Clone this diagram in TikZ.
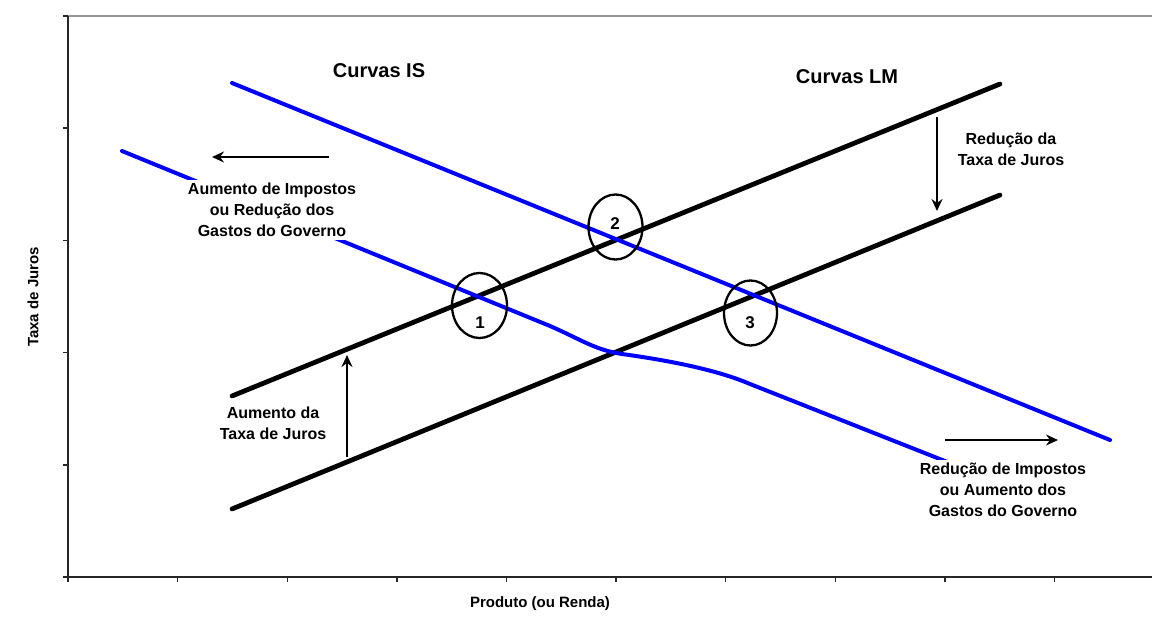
\documentclass[tikz,border=0pt]{standalone}
\usepackage{fontspec}
\setmainfont{Liberation Sans}
\usetikzlibrary{arrows.meta,shapes.geometric}
\definecolor{isblue}{RGB}{0,0,255}
\definecolor{framegray}{RGB}{150,150,150}
\begin{document}
\begin{tikzpicture}[x=1pt,y=-1pt,
  lm/.style={line width=4.8pt,line cap=round},
  is/.style={line width=4pt,draw=isblue,line cap=round},
  lbl/.style={font=\bfseries\fontsize{16}{21}\selectfont,align=center,inner sep=0pt},
  num/.style={font=\bfseries\fontsize{17}{21}\selectfont,inner sep=0pt},
  ttl/.style={font=\bfseries\fontsize{20}{24}\selectfont,inner sep=0pt},
  axl/.style={font=\bfseries\fontsize{15}{18}\selectfont,inner sep=0pt},
  txtbox/.style={font=\bfseries\fontsize{16}{21}\selectfont,align=center,fill=white,inner sep=3pt},
  arr/.style={line width=1.8pt,-{Stealth[length=12pt,width=11pt,inset=4pt]}},
  ell/.style={draw,ellipse,line width=2.3pt,inner sep=0pt},
  axis/.style={line width=1.4pt,draw=black!85}]
\useasboundingbox (0,0) rectangle (1152,639);
% frame and axes
\coordinate (tl) at (68,16); \coordinate (tr) at (1152,16);
\coordinate (bl) at (68,577); \coordinate (br) at (1152,577);
\draw[line width=1.6pt,framegray] (tl) -- (tr);
\draw[axis] (tl) -- (bl);
\draw[axis] (63,577) -- (br);
\foreach \yy in {16,128.2,240.4,352.6,464.8,577} \draw[axis] (63,\yy) -- (68,\yy);
\foreach \i in {0,...,9} \draw[axis] (68+109.6*\i,577) -- (68+109.6*\i,582);
% LM curves
\coordinate (lmAa) at (232,396); \coordinate (lmAb) at (1000,84);
\coordinate (lmBa) at (232,509); \coordinate (lmBb) at (1000,195);
\draw[lm] (lmAa) -- (lmAb);
\draw[lm] (lmBa) -- (lmBb);
% IS curves
\coordinate (isAa) at (232,83); \coordinate (isAb) at (1110,440);
\coordinate (isBa) at (122,151); \coordinate (isBb) at (960,467);
\draw[is] (isAa) -- (isAb);
\draw[is] (isBa) -- (550,326) .. controls (580,339) and (595,350) .. (622,354)
  .. controls (680,362) and (722,372) .. (750,384) -- (isBb);
% equilibrium points
\node[ell,minimum width=55pt,minimum height=65pt] (e1) at (479.5,305.5) {};
\node[ell,minimum width=54pt,minimum height=65pt] (e2) at (615.5,227) {};
\node[ell,minimum width=53pt,minimum height=65pt] (e3) at (750.5,313) {};
\node[num] (n1) at (480,323) {1};
\node[num] (n2) at (615,224) {2};
\node[num] (n3) at (750,323) {3};
% titles
\node[ttl] (cis) at (379,71) {Curvas IS};
\node[ttl] (clm) at (847,77) {Curvas LM};
% shift labels and arrows
\node[txtbox] (aumimp) at (272,210) {Aumento de Impostos\\ou Redução dos\\Gastos do Governo};
\coordinate (a1s) at (329,157); \coordinate (a1e) at (212,157);
\draw[arr] (a1s) -- (a1e);
\node[txtbox] (redimp) at (1003,490) {Redução de Impostos\\ou Aumento dos\\Gastos do Governo};
\coordinate (a2s) at (945,440); \coordinate (a2e) at (1058,440);
\draw[arr] (a2s) -- (a2e);
\node[lbl] (redtx) at (1011,149) {Redução da\\Taxa de Juros};
\coordinate (a3s) at (937,117); \coordinate (a3e) at (937,211);
\draw[arr] (a3s) -- (a3e);
\node[lbl] (aumtx) at (273,423) {Aumento da\\Taxa de Juros};
\coordinate (a4s) at (347,457); \coordinate (a4e) at (347,355);
\draw[arr] (a4s) -- (a4e);
% axis labels
\node[axl,rotate=90] (ylab) at (33,297) {Taxa de Juros};
\node[axl] (xlab) at (540,604) {Produto (ou Renda)};
\end{tikzpicture}
\end{document}
